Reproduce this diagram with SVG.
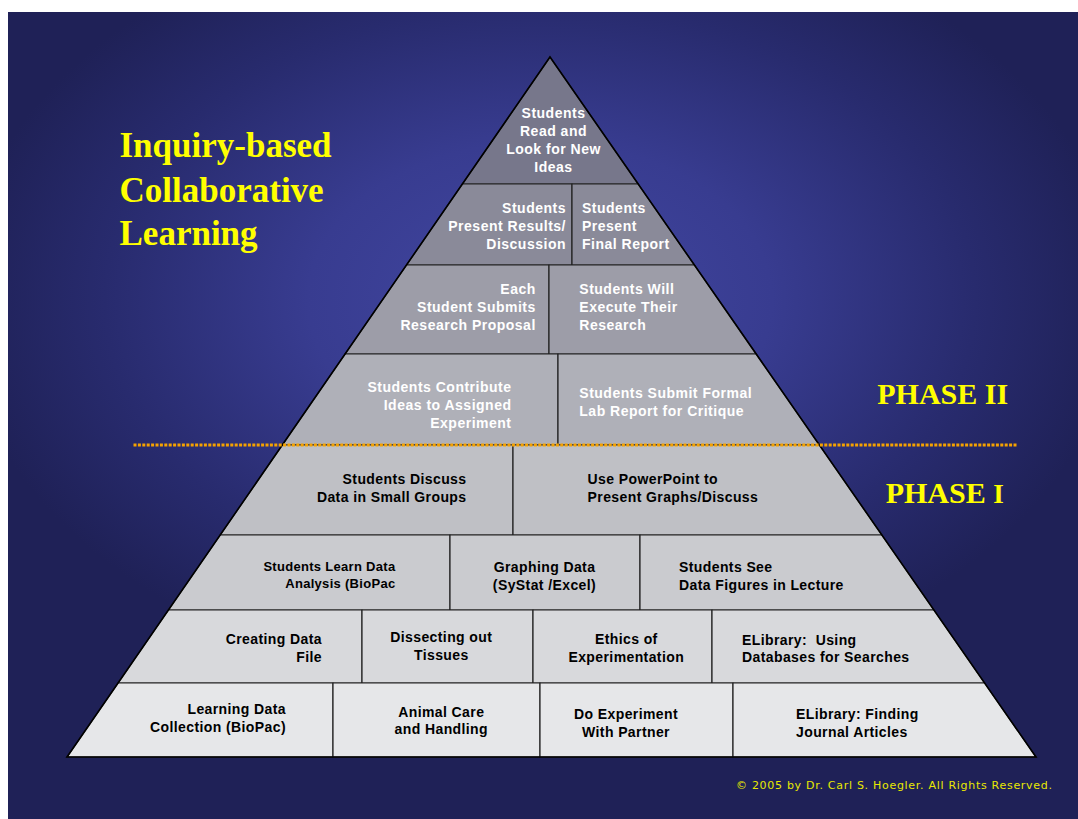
<svg xmlns="http://www.w3.org/2000/svg" width="1078" height="819" viewBox="0 0 1078 819">
<defs>
<radialGradient id="bg" gradientUnits="userSpaceOnUse" cx="540" cy="300" r="580" gradientTransform="translate(540 300) scale(1 0.68) translate(-540 -300)">
<stop offset="0" stop-color="#4247a2"/>
<stop offset="0.4" stop-color="#383c90"/>
<stop offset="0.75" stop-color="#282b6e"/>
<stop offset="1" stop-color="#1f2157"/>
</radialGradient>
<style>
.cell{stroke:#222;stroke-width:1.2;stroke-linejoin:miter}
.r1{fill:#77778b}.r2{fill:#8a8a99}.r3{fill:#9d9da8}.r4{fill:#afb0b8}
.r5{fill:#bfc0c5}.r6{fill:#cacbcf}.r7{fill:#d8d9dc}.r8{fill:#e6e7e9}
.w{fill:#ffffff;font-family:"Liberation Sans",Arial,sans-serif;font-weight:bold;font-size:14px;letter-spacing:0.5px}
.b{fill:#000000;font-family:"Liberation Sans",Arial,sans-serif;font-weight:bold;font-size:14px;letter-spacing:0.4px}
.s{font-size:13px;letter-spacing:0.3px}
.e{text-anchor:end}.m{text-anchor:middle}
.title{fill:#ffff00;font-family:"Liberation Serif","Times New Roman",serif;font-weight:bold;font-size:35px}
.phase{fill:#ffff00;font-family:"Liberation Serif","Times New Roman",serif;font-weight:bold;font-size:30px}
.copy{fill:#e8e800;font-family:"DejaVu Sans",Verdana,sans-serif;font-size:11px}
</style>
</defs>
<rect x="0" y="0" width="1078" height="819" fill="#ffffff"/>
<rect x="8" y="12" width="1070" height="807" fill="url(#bg)"/>

<g id="title">
<text class="title" x="119.5" y="157.3">Inquiry-based</text>
<text class="title" x="119.5" y="201.7">Collaborative</text>
<text class="title" x="119.5" y="245">Learning</text>
</g>

<g id="n-read">
<polygon class="cell r1" points="550,57 462.4,184 638.2,184"/>
<text class="w m" x="553.5" y="118.3">Students</text>
<text class="w m" x="553.5" y="136.3">Read and</text>
<text class="w m" x="553.5" y="154.3">Look for New</text>
<text class="w m" x="553.5" y="172.3">Ideas</text>
</g>

<g id="n-present-results">
<polygon class="cell r2" points="462.4,184 572,184 572,265 406.5,265"/>
<text class="w e" x="566" y="213.3">Students</text>
<text class="w e" x="566" y="231.3">Present Results/</text>
<text class="w e" x="566" y="249.3">Discussion</text>
</g>
<g id="n-final-report">
<polygon class="cell r2" points="572,184 638.2,184 694.4,265 572,265"/>
<text class="w" x="582" y="213.3">Students</text>
<text class="w" x="582" y="231.3">Present</text>
<text class="w" x="582" y="249.3">Final Report</text>
</g>

<g id="n-proposal">
<polygon class="cell r3" points="406.5,265 549,265 549,354 345.1,354"/>
<text class="w e" x="535.8" y="294.3">Each</text>
<text class="w e" x="535.8" y="312.3">Student Submits</text>
<text class="w e" x="535.8" y="330.3">Research Proposal</text>
</g>
<g id="n-execute">
<polygon class="cell r3" points="549,265 694.4,265 756.2,354 549,354"/>
<text class="w" x="579.3" y="294.3">Students Will</text>
<text class="w" x="579.3" y="312.3">Execute Their</text>
<text class="w" x="579.3" y="330.3">Research</text>
</g>

<g id="n-contribute">
<polygon class="cell r4" points="345.1,354 558,354 558,445 282.3,445"/>
<text class="w e" x="511.5" y="391.7">Students Contribute</text>
<text class="w e" x="511.5" y="409.7">Ideas to Assigned</text>
<text class="w e" x="511.5" y="427.7">Experiment</text>
</g>
<g id="n-lab-report">
<polygon class="cell r4" points="558,354 756.2,354 819.4,445 558,445"/>
<text class="w" x="579.3" y="397.7">Students Submit Formal</text>
<text class="w" x="579.3" y="415.7">Lab Report for Critique</text>
</g>

<g id="n-discuss">
<polygon class="cell r5" points="282.3,445 513,445 513,535 220.2,535"/>
<text class="b e" x="466.5" y="484">Students Discuss</text>
<text class="b e" x="466.5" y="502.3">Data in Small Groups</text>
</g>
<g id="n-powerpoint">
<polygon class="cell r5" points="513,445 819.4,445 881.9,535 513,535"/>
<text class="b" x="587.6" y="484">Use PowerPoint to</text>
<text class="b" x="587.6" y="502.3">Present Graphs/Discuss</text>
</g>

<g id="n-learn-analysis">
<polygon class="cell r6" points="220.2,535 450,535 450,610 168.4,610"/>
<text class="b s e" x="395.5" y="570.7">Students Learn Data</text>
<text class="b s e" x="395.5" y="588.3">Analysis (BioPac</text>
</g>
<g id="n-graphing">
<polygon class="cell r6" points="450,535 640,535 640,610 450,610"/>
<text class="b m" x="544.5" y="572.3">Graphing Data</text>
<text class="b m" x="544.5" y="590">(SyStat /Excel)</text>
</g>
<g id="n-see-figures">
<polygon class="cell r6" points="640,535 881.9,535 933.9,610 640,610"/>
<text class="b" x="679" y="572.3">Students See</text>
<text class="b" x="679" y="590">Data Figures in Lecture</text>
</g>

<g id="n-data-file">
<polygon class="cell r7" points="168.4,610 362,610 362,683 118.1,683"/>
<text class="b e" x="322" y="644.3">Creating Data</text>
<text class="b e" x="322" y="662.3">File</text>
</g>
<g id="n-dissecting">
<polygon class="cell r7" points="362,610 533,610 533,683 362,683"/>
<text class="b m" x="441.3" y="642.3">Dissecting out</text>
<text class="b m" x="441.3" y="660">Tissues</text>
</g>
<g id="n-ethics">
<polygon class="cell r7" points="533,610 712,610 712,683 533,683"/>
<text class="b m" x="626.3" y="644.3">Ethics of</text>
<text class="b m" x="626.3" y="662.3">Experimentation</text>
</g>
<g id="n-databases">
<polygon class="cell r7" points="712,610 933.9,610 984.6,683 712,683"/>
<text class="b" x="742" y="644.7" xml:space="preserve">ELibrary:  Using</text>
<text class="b" x="742" y="662.3">Databases for Searches</text>
</g>

<g id="n-collection">
<polygon class="cell r8" points="118.1,683 333,683 333,757 67,757"/>
<text class="b e" x="286" y="714">Learning Data</text>
<text class="b e" x="286" y="732">Collection (BioPac)</text>
</g>
<g id="n-animal-care">
<polygon class="cell r8" points="333,683 540,683 540,757 333,757"/>
<text class="b m" x="441.3" y="716.7">Animal Care</text>
<text class="b m" x="441.3" y="734.3">and Handling</text>
</g>
<g id="n-experiment">
<polygon class="cell r8" points="540,683 733,683 733,757 540,757"/>
<text class="b m" x="626" y="718.7">Do Experiment</text>
<text class="b m" x="626" y="736.7">With Partner</text>
</g>
<g id="n-journal">
<polygon class="cell r8" points="733,683 984.6,683 1036,757 733,757"/>
<text class="b" x="796" y="719.3">ELibrary: Finding</text>
<text class="b" x="796" y="737.3">Journal Articles</text>
</g>

<g id="outline">
<polygon points="550,57 1036,757 67,757" fill="none" stroke="#000" stroke-width="1.6" stroke-linejoin="miter"/>
</g>

<g id="connectors">
<line x1="133.5" y1="445" x2="1017" y2="445" stroke="#f5a200" stroke-width="3" stroke-dasharray="3 1.4"/>
</g>

<g id="phases">
<text class="phase" x="877.3" y="404.3">PHASE II</text>
<text class="phase" x="885.7" y="503.3">PHASE <tspan font-size="27">I</tspan></text>
</g>

<text class="copy" x="736" y="789" textLength="316">© 2005 by Dr. Carl S. Hoegler. All Rights Reserved.</text>
</svg>
